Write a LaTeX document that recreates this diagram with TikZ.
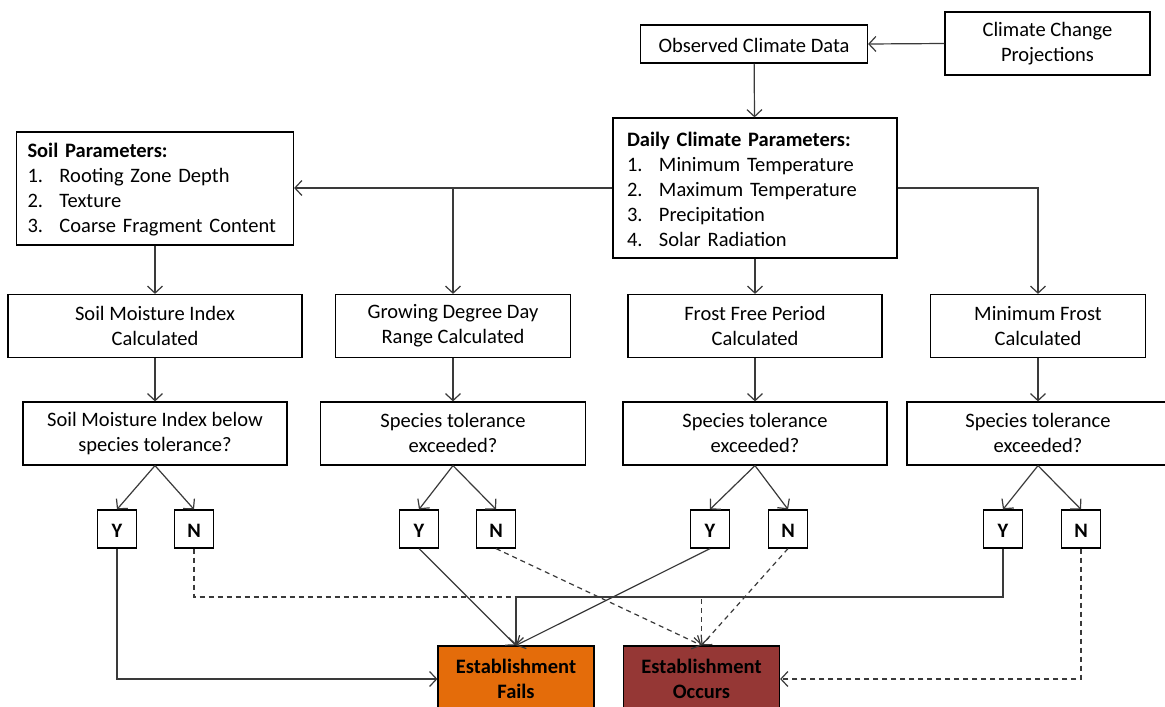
\documentclass[tikz,border=0pt]{standalone}
\usepackage{fontspec}
\setmainfont{Carlito}
\usetikzlibrary{arrows.meta}
\definecolor{lineg}{HTML}{3A3A3A}
\definecolor{failc}{HTML}{E46C0A}
\definecolor{occc}{HTML}{953735}
\newcommand{\itm}[2]{\makebox[32pt][l]{#1}#2}
% fixed line extents so every node text is centred the same way
\newcommand{\topstrut}{\rule{0pt}{17.5pt}}
\newcommand{\botstrut}{\rule[-1pt]{0pt}{1pt}}

\begin{document}
\begin{tikzpicture}[x=1pt,y=-1pt,
  font=\fontsize{20.5}{25}\selectfont,
  box/.style={draw=black, line width=1.2pt, fill=white, inner sep=0pt, align=center,
    execute at begin node=\topstrut, execute at end node=\botstrut},
  yn/.style={box, minimum width=39pt, minimum height=38pt, font=\fontsize{20.5}{25}\selectfont\bfseries},
  outcome/.style={box, minimum width=156pt, minimum height=66pt, font=\fontsize{20.5}{25}\selectfont\bfseries},
  conn/.style={draw=lineg, line width=1.2pt, -{Straight Barb[length=7pt,width=15pt]}},
  dconn/.style={conn, dash pattern=on 5pt off 4pt}]

\fill[white] (0,0) rectangle (1165,707);
\useasboundingbox (0,0) rectangle (1165,707);

% climate inputs
\node[box, minimum width=227pt, minimum height=38pt] (obs) at (754,44) {Observed Climate Data};
\node[box, minimum width=205pt, minimum height=63pt] (ccp) at (1047.5,43.5) {Climate Change\\Projections};

% parameter lists
\node[box, minimum width=284pt, minimum height=140pt, text width=256pt, align=left] (dcp) at (755,188)
  {\textbf{Daily Climate Parameters:}\\
   \itm{1.}{Minimum Temperature}\\
   \itm{2.}{Maximum Temperature}\\
   \itm{3.}{Precipitation}\\
   \itm{4.}{Solar Radiation}};
\node[box, minimum width=277pt, minimum height=113pt, text width=255pt, align=left] (soil) at (155,188.5)
  {\textbf{Soil Parameters:}\\
   \itm{1.}{Rooting Zone Depth}\\
   \itm{2.}{Texture}\\
   \itm{3.}{Coarse Fragment Content}};

% calculated indices
\node[box, minimum width=294pt, minimum height=63pt] (smi) at (155,326) {Soil Moisture Index\\Calculated};
\node[box, minimum width=235pt, minimum height=63pt] (gdd) at (453,326) {Growing Degree Day\\Range Calculated};
\node[box, minimum width=254pt, minimum height=63pt] (ffp) at (755,326) {Frost Free Period\\Calculated};
\node[box, minimum width=215pt, minimum height=63pt] (mf) at (1038,326) {Minimum Frost\\Calculated};

% tolerance questions
\node[box, minimum width=264pt, minimum height=63pt] (q1) at (155,433.5) {Soil Moisture Index below\\species tolerance?};
\node[box, minimum width=265pt, minimum height=63pt] (q2) at (453,433.5) {Species tolerance\\exceeded?};
\node[box, minimum width=264pt, minimum height=63pt] (q3) at (755,433.5) {Species tolerance\\exceeded?};
\node[box, minimum width=262pt, minimum height=63pt] (q4) at (1038,433.5) {Species tolerance\\exceeded?};

% answers
\node[yn] (y1) at (117,529) {Y};
\node[yn] (n1) at (194,529) {N};
\node[yn] (y2) at (419,529) {Y};
\node[yn] (n2) at (496,529) {N};
\node[yn] (y3) at (710,529) {Y};
\node[yn] (n3) at (788,529) {N};
\node[yn] (y4) at (1003,529) {Y};
\node[yn] (n4) at (1081,529) {N};

% outcomes
\node[outcome, fill=failc] (fails) at (516,679) {Establishment\\Fails};
\node[outcome, fill=occc] (occ) at (701.5,679) {Establishment\\Occurs};

% upper connectors
\draw[conn] (ccp.west) -- (obs.east);
\draw[conn] (obs) -- (dcp);
\draw[conn] (dcp.west) -- (dcp.west -| soil.east);
\draw[conn] (dcp.west -| gdd.north) -- (gdd.north);
\draw[conn] (dcp.east) -| (mf.north);
\draw[conn] (dcp) -- (ffp);
\draw[conn] (soil) -- (smi);
\draw[conn] (smi) -- (q1);
\draw[conn] (gdd) -- (q2);
\draw[conn] (ffp) -- (q3);
\draw[conn] (mf) -- (q4);

\foreach \q/\a/\b in {q1/y1/n1, q2/y2/n2, q3/y3/n3, q4/y4/n4}{
  \draw[conn] (\q.south) -- (\a.north);
  \draw[conn] (\q.south) -- (\b.north);
}

% outcome connectors
\coordinate (bus) at (0,597);
\draw[conn] (y1.south) |- (fails.west);
\draw[dconn] (n1.south) |- (bus -| occ.north) -- (occ.north);
\draw[conn] (y4.south) |- (bus -| fails.north) -- (fails.north);
\draw[conn] (y2.south) -- (fails.north);
\draw[conn] (y3.south) -- (fails.north);
\draw[dconn] (n2.south) -- (occ.north);
\draw[dconn] (n3.south) -- (occ.north);
\draw[dconn] (n4.south) |- (occ.east);
\end{tikzpicture}
\end{document}
